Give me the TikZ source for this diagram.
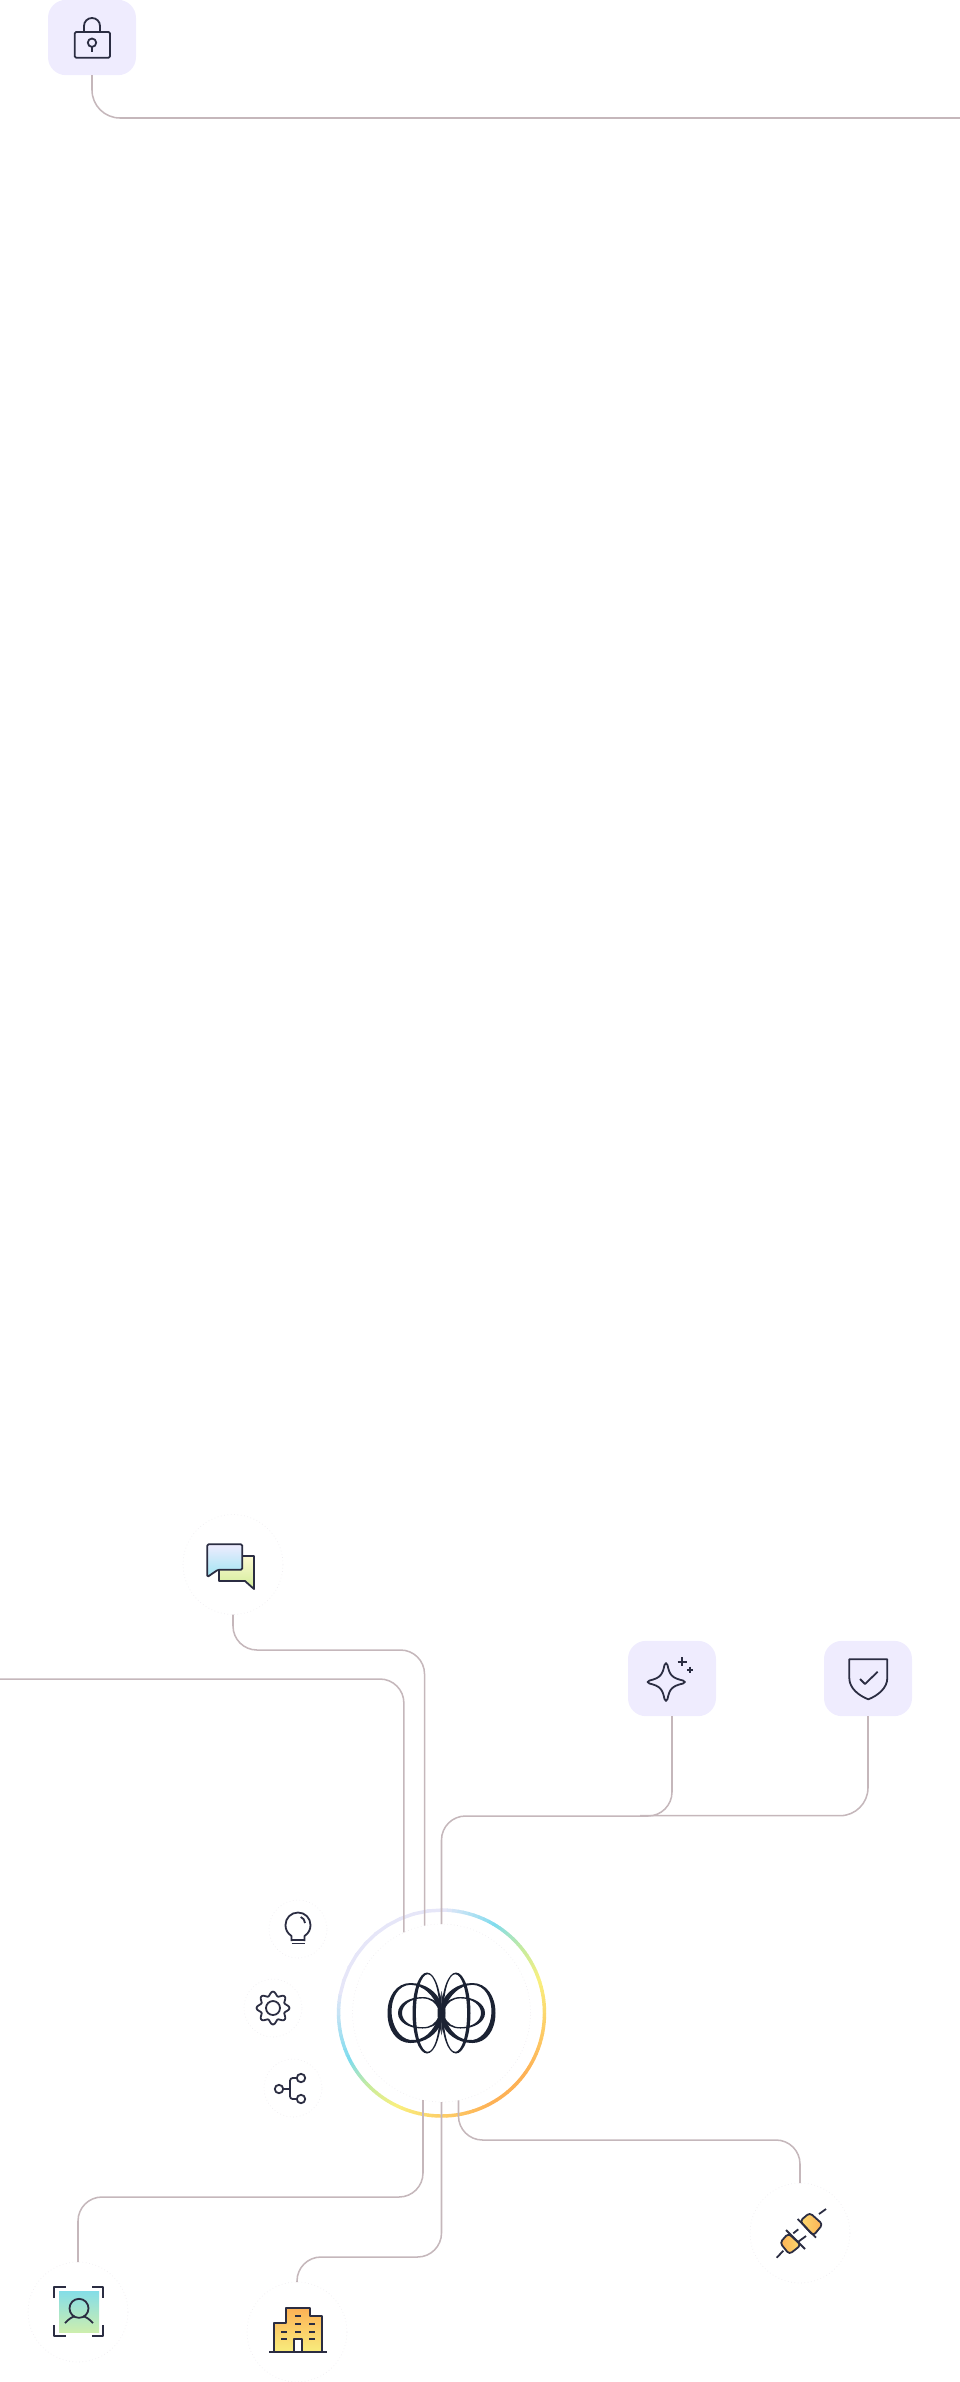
\documentclass[tikz,border=0pt]{standalone}
\usepackage{xcolor}
\usetikzlibrary{shapes.geometric, positioning}

\definecolor{inkdark}{HTML}{2B2D42}
\definecolor{logodark}{HTML}{1B2233}
\definecolor{wiregrey}{HTML}{C5B7BB}
\definecolor{boxlilac}{HTML}{EFECFE}
\definecolor{ringpale}{HTML}{EFEDF1}
\definecolor{ringlav}{HTML}{E6E6F8}
\definecolor{ringcyan}{HTML}{7FDCEE}
\definecolor{ringgreen}{HTML}{C4EBA0}
\definecolor{ringyellow}{HTML}{F8F07F}
\definecolor{ringamber}{HTML}{FDD069}
\definecolor{ringorange}{HTML}{FDB155}

\begin{document}
\begin{tikzpicture}[x=0.75pt, y=-0.75pt]
\tikzstyle{iconbox} = [rectangle, rounded corners=13.5pt, minimum width=66pt, minimum height=56.5pt, inner sep=0pt, outer sep=0pt, fill=boxlilac]
\tikzstyle{iconring} = [circle, minimum size=75pt, inner sep=0pt, outer sep=0pt, draw=ringpale, dotted, line width=0.5pt, fill=white!98!ringlav]
\tikzstyle{toolring} = [iconring, minimum size=43.5pt]
\tikzstyle{hubring} = [iconring, minimum size=133.5pt]
\tikzstyle{wire} = [draw=wiregrey, line width=1.15pt, rounded corners=18pt]
\tikzstyle{glyph} = [draw=inkdark, line width=1.35pt, line join=round]
\useasboundingbox (0,0) rectangle (960,2382);

% Main nodes
\node (lock) [iconbox] at (92,37.5) {};
\node (chat) [iconring] at (233,1564.5) {};
\node (sparkle) [iconbox] at (672,1678.5) {};
\node (shield) [iconbox] at (868,1678.5) {};
\node (hub) [hubring] at (441.5,2013) {};
\node (bulb) [toolring] at (298,1929) {};
\node (gear) [toolring] at (273,2008) {};
\node (share) [toolring] at (293,2088) {};
\node (person) [iconring] at (78,2312) {};
\node (building) [iconring] at (297,2332) {};
\node (plug) [iconring] at (800,2233) {};
\coordinate (edgeright) at (960,118);
\coordinate (edgeleft) at (0,1679);
\coordinate (trunkjoin) at (640,1815.7);

% Hub ring
\begin{scope}[shift={(441.5,2013)}]
\foreach \a/\b/\ca/\cb in {0/30/ringlav/ringcyan, 30/50/ringcyan/ringgreen, 50/70/ringgreen/ringyellow, 70/95/ringyellow/ringamber, 95/125/ringamber/ringorange, 125/150/ringorange/ringorange, 150/180/ringorange/ringamber, 180/205/ringamber/ringyellow, 205/225/ringyellow/ringgreen, 225/242/ringgreen/ringcyan, 242/280/ringcyan/ringlav, 280/360/ringlav/ringlav}
  \foreach \p in {0,10,...,90} {
    \pgfmathsetmacro\ta{\a+(\b-\a)*\p/100-90}
    \pgfmathsetmacro\tb{\a+(\b-\a)*(\p+11)/100-90}
    \draw [line width=2.6pt, color={\cb!\p!\ca}] (\ta:103) -- (\tb:103);
  }
\end{scope}

% Connectors
\draw [wire, rounded corners=21pt] (lock.south) |- (edgeright);
\draw [wire] (chat.south) |- (hub.101 |- 0,1650) -- (hub.101);
\draw [wire] (edgeleft) -| (hub.115.6);
\draw [wire] (sparkle.south) |- (hub.north |- 0,1816) -- (hub.north);
\draw [wire, rounded corners=21pt] (shield.south) |- (trunkjoin);
\draw [wire] (hub.258) |- (person.north |- 0,2197) -- (person.north);
\draw [wire] (hub.south) |- (building.north |- 0,2257) -- (building.north);
\draw [wire] (hub.281.3) |- (plug.north |- 0,2140) -- (plug.north);

% Hub logo
\foreach \s in {1,-1} {
\begin{scope}[shift={(441.5,2013)}, xscale=\s]
\fill [logodark, even odd rule] (0,-9) .. controls (-4,-21) and (-16,-30) .. (-31,-30) .. controls (-45,-30) and (-54,-17) .. (-54,0) .. controls (-54,17) and (-45,30) .. (-31,30) .. controls (-16,30) and (-4,21) .. (0,9) -- cycle
  (-3.5,-5) .. controls (-8,-18) and (-18,-27.8) .. (-31,-28.2) .. controls (-43,-28) and (-50,-16) .. (-50,-1) .. controls (-49.5,13) and (-42,25.5) .. (-31,27) .. controls (-17,27.8) and (-8,18) .. (-3.5,5) -- cycle;
\fill [logodark, even odd rule] (0,-5) .. controls (-4,-12) and (-11,-16) .. (-19,-16) .. controls (-33,-16) and (-43.5,-9) .. (-43.5,0) .. controls (-43.5,9) and (-33,15.5) .. (-19,15.5) .. controls (-11,15.5) and (-4,12) .. (0,5) -- cycle
  (-3,-3.5) .. controls (-6,-10.5) and (-11,-14.6) .. (-19,-14.6) .. controls (-31,-14.6) and (-39.5,-8) .. (-39.5,0) .. controls (-39.5,8) and (-31,14.2) .. (-19,14.2) .. controls (-11,14.2) and (-6,10.5) .. (-3,3.5) -- cycle;
\fill [logodark, even odd rule] (-14.5,0) ellipse [x radius=14.5, y radius=40.5] (-13.8,0) ellipse [x radius=11.8, y radius=38.8];
\fill [logodark] (0,-22) .. controls (-1.5,-14) and (-4,-8) .. (-4,0) .. controls (-4,8) and (-1.5,14) .. (0,22) -- cycle;
\end{scope}
}

% Lock icon
\draw [glyph, rounded corners=1pt] (74.7,32) rectangle (110,57.7);
\draw [glyph] (84,32) -- (84,26) arc [start angle=180, end angle=360, radius=8] -- (100,32);
\draw [glyph] (92,42.7) circle [radius=4.2];
\draw [glyph] (92,46.9) -- (92,51.7);

% Sparkle icon
\draw [glyph] (664.5,1665) .. controls (665.5,1662.5) and (666.5,1662.5) .. (667.5,1665) .. controls (669.5,1675) and (672,1678) .. (683,1680.5) .. controls (685.5,1681.5) and (685.5,1682.5) .. (683,1683.5) .. controls (672,1686) and (669.5,1689) .. (667.5,1699) .. controls (666.5,1701.5) and (665.5,1701.5) .. (664.5,1699) .. controls (662.5,1689) and (660,1686) .. (649.5,1683.5) .. controls (647,1682.5) and (647,1681.5) .. (649.5,1680.5) .. controls (660,1678) and (662.5,1675) .. (664.5,1665) -- cycle;
\draw [glyph] (677.5,1661.7) -- (686.5,1661.7) (682,1657.2) -- (682,1666.2);
\draw [glyph] (687,1669.7) -- (693,1669.7) (690,1666.7) -- (690,1672.7);

% Shield icon
\draw [glyph] (849.3,1659.3) -- (887.3,1659.3) -- (887.3,1678) .. controls (887.3,1688) and (878,1695.5) .. (868.3,1699.3) .. controls (858.5,1695.5) and (849.3,1688) .. (849.3,1678) -- cycle;
\draw [glyph] (860,1679) -- (865,1684) -- (877.7,1671.7);

% Chat icon
\draw [glyph, top color=ringyellow!35!white, bottom color=ringgreen!75!ringyellow] (238,1556) -- (254,1556) -- (254,1589) -- (245,1581) -- (219,1581) -- (219,1566) -- cycle;
\draw [glyph, rounded corners=1pt, top color=boxlilac, bottom color=ringcyan!75!white] (207.3,1544.3) -- (242.3,1544.3) -- (242.3,1569.7) -- (218,1569.7) -- (207.3,1577) -- cycle;

% Bulb icon
\draw [glyph] (291.5,1941) -- (291.5,1936) .. controls (287,1933) and (285.5,1929) .. (285.5,1925) .. controls (285.5,1918) and (291,1912.5) .. (298,1912.5) .. controls (305,1912.5) and (310.5,1918) .. (310.5,1925) .. controls (310.5,1929) and (309,1933) .. (304.5,1936) -- (304.5,1941);
\draw [glyph] (291.5,1940) -- (304.5,1940) (291.5,1943.5) -- (304.5,1943.5);
\draw [glyph] (300.7,1917) .. controls (303,1918) and (305,1920) .. (305,1923);

% Gear icon
\begin{scope}[shift={(273,2008)}]
\draw [glyph] plot [domain=0:360, samples=161, smooth] (\x:{14.4+2*cos(8*\x)}) -- cycle;
\draw [glyph] (0,0) circle [radius=7];
\end{scope}

% Share icon
\draw [glyph] (279,2089) circle [radius=4.2];
\draw [glyph] (301,2078) circle [radius=4.2];
\draw [glyph] (301,2099) circle [radius=4.2];
\draw [glyph] (283.2,2089) -- (290,2089);
\draw [glyph, rounded corners=2pt] (296.8,2078) -- (290,2078) -- (290,2099) -- (296.8,2099);

% Person icon
\shade [top color=ringcyan!90!ringgreen, bottom color=ringgreen!85!white] (59,2291.7) rectangle (99,2332);
\draw [glyph] (54.3,2298) -- (54.3,2287.3) -- (65.5,2287.3);
\draw [glyph] (92,2287.3) -- (103.3,2287.3) -- (103.3,2298);
\draw [glyph] (54.3,2325) -- (54.3,2336) -- (65.5,2336);
\draw [glyph] (92,2336) -- (103.3,2336) -- (103.3,2325);
\draw [glyph] (79,2308.3) circle [radius=9.5];
\draw [glyph] (65,2323) .. controls (69,2319) and (72,2316.5) .. (75,2316.5) (83,2316.5) .. controls (86,2316.5) and (89,2319) .. (93,2323);

% Building icon
\draw [glyph, top color=ringorange, bottom color=ringyellow!90!ringamber] (274,2351.7) -- (274,2323.3) -- (285.7,2323.3) -- (285.7,2307.7) -- (310,2307.7) -- (310,2315.7) -- (321.7,2315.7) -- (321.7,2351.7) -- cycle;
\draw [glyph, fill=white] (294,2351.7) -- (294,2339.3) -- (302,2339.3) -- (302,2351.7);
\draw [glyph] (269.3,2351.7) -- (326.7,2351.7);
\draw [glyph] (295,2316) -- (301,2316) (295,2323.7) -- (301,2323.7) (309,2323.7) -- (315,2323.7) (281,2331.7) -- (287,2331.7) (295,2331.7) -- (301,2331.7) (309,2331.7) -- (315,2331.7) (281,2339.3) -- (287,2339.3) (309,2339.3) -- (315,2339.3);

% Plug icon
\draw [glyph] (819,2214) -- (826,2209);
\draw [glyph, rounded corners=2.5pt, left color=ringamber!70!ringyellow, right color=ringorange] (800,2221) -- (809.7,2212.7) -- (822.7,2224.3) -- (813.3,2235.7) -- cycle;
\draw [glyph] (797.7,2219) -- (816,2237.7);
\draw [glyph] (793.3,2233.3) -- (798.3,2229.3) (798.3,2241.7) -- (806,2236);
\draw [glyph] (783.3,2250.7) -- (776.7,2257.7);
\draw [glyph, rounded corners=2.5pt, left color=ringorange, right color=ringamber!70!ringyellow] (788.3,2233.3) -- (780,2242.7) -- (789.3,2254.3) -- (801,2245) -- cycle;
\draw [glyph] (786,2230) -- (805,2249);
\end{tikzpicture}
\end{document}
